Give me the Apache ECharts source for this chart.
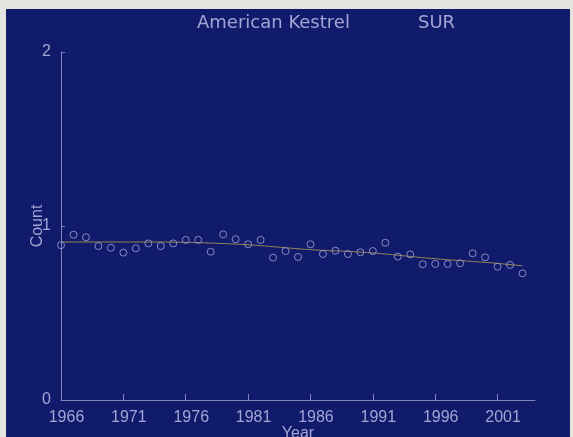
<!DOCTYPE html>
<html>
<head>
<meta charset="utf-8">
<script src="https://cdn.jsdelivr.net/npm/echarts@6/dist/echarts.min.js"></script>
<style>
    html, body {margin: 0; padding: 0; background: #e4e4e0; width: 573px; height: 437px; overflow: hidden;}
    #chart {position: absolute; left: 6px; top: 9px; width: 564px; height: 428px;}
</style>
</head>
<body>
<div id="chart"></div>
<script>
const years = [1966, 1967, 1968, 1969, 1970, 1971, 1972, 1973, 1974, 1975, 1976, 1977, 1978,
    1979, 1980, 1981, 1982, 1983, 1984, 1985, 1986, 1987, 1988, 1989, 1990, 1991, 1992,
    1993, 1994, 1995, 1996, 1997, 1998, 1999, 2000, 2001, 2002, 2003];
const counts = [0.89, 0.95, 0.935, 0.885, 0.875, 0.847, 0.872, 0.9, 0.885, 0.9, 0.92, 0.92, 0.852,
    0.952, 0.924, 0.895, 0.92, 0.818, 0.856, 0.822, 0.895, 0.839, 0.858, 0.839, 0.849, 0.856, 0.904,
    0.824, 0.837, 0.78, 0.782, 0.782, 0.786, 0.843, 0.82, 0.766, 0.776, 0.728];
const trend = [0.908, 0.908, 0.908, 0.908, 0.908, 0.908, 0.908, 0.908, 0.908, 0.907, 0.906, 0.904, 0.902,
    0.899, 0.896, 0.892, 0.887, 0.881, 0.875, 0.869, 0.864, 0.86, 0.857, 0.854, 0.85, 0.845, 0.839,
    0.832, 0.825, 0.818, 0.812, 0.806, 0.801, 0.796, 0.791, 0.785, 0.778, 0.771];
const yearTicks = [1966, 1971, 1976, 1981, 1986, 1991, 1996, 2001];
const countTicks = [0, 1, 2];

const bgColor = '#111b6c';
const axisColor = '#8282be';
const textColor = '#a4a4d4';
const labelFont = 'Liberation Sans';

const chart = echarts.init(document.getElementById('chart'));
chart.setOption({
    backgroundColor: bgColor,
    animation: false,
    title: [
        {
            text: 'American Kestrel',
            left: 191,
            top: 5,
            padding: 0,
            textStyle: {color: textColor, fontFamily: 'DejaVu Sans', fontSize: 18, fontWeight: 'normal'},
        },
        {
            text: 'SUR',
            left: 412,
            top: 5,
            padding: 0,
            textStyle: {color: textColor, fontFamily: 'DejaVu Sans', fontSize: 18, fontWeight: 'normal'},
        },
    ],
    grid: {
        left: 55,
        right: 35,
        top: 43,
        bottom: 37,
        outerBoundsMode: 'none',
    },
    xAxis: {
        type: 'value',
        min: 1966,
        max: 2004,
        name: 'Year',
        nameLocation: 'middle',
        nameGap: 26,
        nameMoveOverlap: false,
        nameTextStyle: {color: textColor, fontFamily: labelFont, fontSize: 16},
        splitLine: {show: false},
        axisLine: {lineStyle: {color: axisColor, width: 1}},
        axisTick: {
            inside: true,
            length: 6,
            customValues: yearTicks,
            lineStyle: {color: axisColor},
        },
        axisLabel: {
            customValues: yearTicks,
            color: textColor,
            fontFamily: labelFont,
            fontSize: 16,
            margin: 10,
            padding: [0, 0, 0, 11],
            formatter: (v) => String(v),
        },
    },
    yAxis: {
        type: 'value',
        min: 0,
        max: 2,
        name: 'Count',
        nameLocation: 'middle',
        nameGap: 15,
        nameMoveOverlap: false,
        nameTextStyle: {color: textColor, fontFamily: labelFont, fontSize: 16},
        splitLine: {show: false},
        axisLine: {show: true, lineStyle: {color: axisColor, width: 1}},
        axisTick: {
            show: true,
            inside: true,
            length: 4,
            customValues: countTicks,
            lineStyle: {color: axisColor},
        },
        axisLabel: {
            customValues: countTicks,
            color: textColor,
            fontFamily: labelFont,
            fontSize: 16,
            margin: 10,
        },
    },
    series: [
        {
            type: 'line',
            name: 'trend',
            data: years.map((y, i) => [y, trend[i]]),
            showSymbol: false,
            smooth: true,
            lineStyle: {color: '#9a8c52', width: 1},
            z: 1,
        },
        {
            type: 'scatter',
            name: 'count',
            data: years.map((y, i) => [y, counts[i]]),
            symbol: 'circle',
            symbolSize: 7,
            itemStyle: {color: 'rgba(0,0,0,0)', borderColor: '#a4a4d6', borderWidth: 1},
            z: 2,
        },
    ],
});
</script>
</body>
</html>
